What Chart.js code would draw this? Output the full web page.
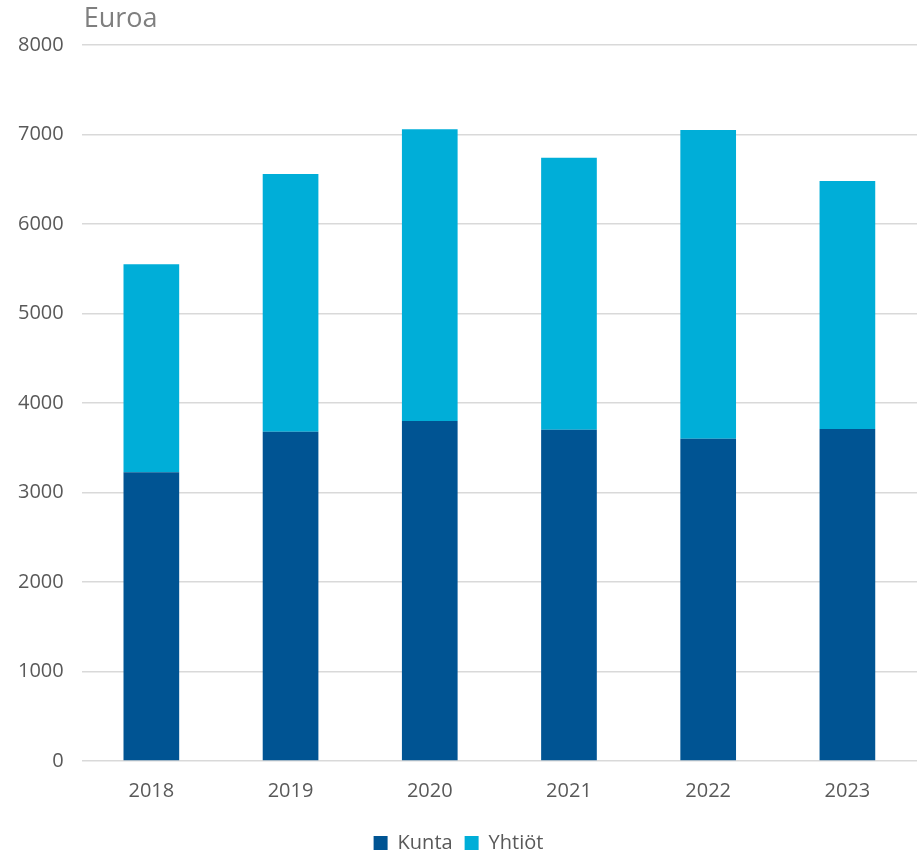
<!DOCTYPE html>
<html>
<head>
<meta charset="utf-8">
<script src="https://cdn.jsdelivr.net/npm/chart.js@4"></script>
<style>
  html, body { margin: 0; padding: 0; background: #fff; }
  #wrap { width: 917px; height: 853px; }
</style>
</head>
<body>
<div id="wrap"><canvas id="chart"></canvas></div>
<script>
const years = ['2018', '2019', '2020', '2021', '2022', '2023'];
const kunta = [3225, 3680, 3800, 3700, 3600, 3710];
const yhtiot = [2325, 2880, 3260, 3040, 3450, 2770];
const yTicks = [0, 1000, 2000, 3000, 4000, 5000, 6000, 7000, 8000];
const unitLabel = 'Euroa';

// otsikko piirretään kaavioalueen vasempaan reunaan
const unitTitle = {
    id: 'unitTitle',
    afterDraw(chart) {
        const c = chart.ctx;
        c.save();
        c.font = '27px "Open Sans"';
        c.fillStyle = '#7f7f7f';
        c.textBaseline = 'middle';
        c.fillText(unitLabel, chart.chartArea.left + 2, 19);
        c.restore();
    }
};

new Chart(document.getElementById('chart'), {
    type: 'bar',
    data: {
        labels: years,
        datasets: [
            { label: 'Kunta', data: kunta, backgroundColor: '#005493' },
            { label: 'Yhtiöt', data: yhtiot, backgroundColor: '#00AED8' }
        ]
    },
    options: {
        responsive: true,
        maintainAspectRatio: false,
        animation: false,
        layout: { padding: { top: 45, right: 0, left: 0, bottom: -10 } },
        datasets: { bar: { barPercentage: 0.4, categoryPercentage: 1 } },
        plugins: {
            legend: {
                position: 'bottom',
                labels: {
                    boxWidth: 14, boxHeight: 14, padding: 12,
                    color: '#595959',
                    font: { family: 'Open Sans', size: 20 }
                }
            },
            tooltip: { enabled: false }
        },
        scales: {
            x: {
                stacked: true,
                grid: { display: false },
                border: { display: false },
                afterFit(axis) { axis.height += 8; },
                ticks: { color: '#595959', padding: 10, font: { family: 'Open Sans', size: 20 } }
            },
            y: {
                stacked: true,
                min: 0,
                max: 8000,
                afterBuildTicks(axis) { axis.ticks = yTicks.map(v => ({ value: v })); },
                grid: { color: '#d9d9d9', lineWidth: 1.5, drawTicks: false },
                border: { display: false },
                ticks: {
                    color: '#595959', padding: 18,
                    font: { family: 'Open Sans', size: 20 },
                    callback: v => String(v)
                }
            }
        }
    },
    plugins: [unitTitle]
});
</script>
</body>
</html>
